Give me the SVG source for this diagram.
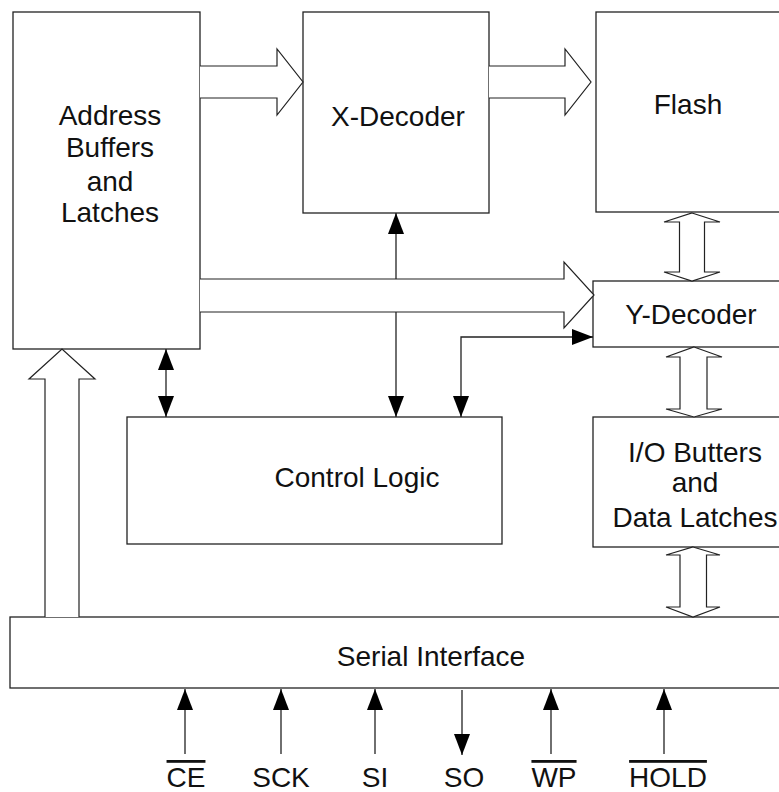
<svg xmlns="http://www.w3.org/2000/svg" width="779" height="792" viewBox="0 0 779 792">
<style>
  .box{fill:#fff;stroke:#222;stroke-width:1.3}
  .hollow{fill:#fff;stroke:#222;stroke-width:1.2;stroke-linejoin:miter}
  .ln{fill:none;stroke:#222;stroke-width:1.3}
  text{font-family:"Liberation Sans",Arial,sans-serif;font-size:28px;fill:#111;text-anchor:middle}
  .ov{text-decoration:overline}
</style>
<defs>
  <marker id="ah" markerUnits="userSpaceOnUse" markerWidth="22" markerHeight="16" refX="21" refY="8" orient="auto-start-reverse" viewBox="0 0 22 16">
    <path d="M0,0 L21,8 L0,16 Z" fill="#000"/>
  </marker>
</defs>
<rect width="779" height="792" fill="#fff"/>

<g id="address-buffers">
  <rect class="box" x="13" y="12" width="187" height="337"/>
  <text x="110" y="125">Address</text>
  <text x="110" y="157">Buffers</text>
  <text x="110" y="191">and</text>
  <text x="110" y="222">Latches</text>
</g>
<g id="x-decoder">
  <rect class="box" x="303" y="12" width="186" height="201"/>
  <text x="398" y="126">X-Decoder</text>
</g>
<g id="flash">
  <rect class="box" x="596" y="12" width="200" height="200"/>
  <text x="688" y="114">Flash</text>
</g>
<g id="y-decoder">
  <rect class="box" x="593" y="281" width="200" height="66"/>
  <text x="691" y="324">Y-Decoder</text>
</g>
<g id="control-logic">
  <rect class="box" x="127" y="417" width="375" height="127"/>
  <text x="357" y="487">Control Logic</text>
</g>
<g id="io-buffers">
  <rect class="box" x="593" y="417" width="200" height="130"/>
  <text x="695" y="462">I/O Butters</text>
  <text x="695" y="492">and</text>
  <text x="695" y="527">Data Latches</text>
</g>
<g id="serial-interface">
  <rect class="box" x="10" y="617" width="790" height="71"/>
  <text x="431" y="666">Serial Interface</text>
</g>

<g id="connectors">
  <!-- thin control lines -->
  <line class="ln" x1="396" y1="280" x2="396" y2="213" marker-end="url(#ah)"/>
  <line class="ln" x1="396" y1="311" x2="396" y2="417" marker-end="url(#ah)"/>
  <line class="ln" x1="166" y1="349" x2="166" y2="417" marker-start="url(#ah)" marker-end="url(#ah)"/>
  <path class="ln" d="M461,417 L461,337 L593,337" marker-start="url(#ah)" marker-end="url(#ah)"/>

  <!-- hollow bus arrows -->
  <path class="hollow" d="M200,66 L277,66 L277,49 L303,82 L277,115 L277,98 L200,98"/>
  <path class="hollow" d="M489,66 L565,66 L565,49 L591,82 L565,115 L565,98 L489,98"/>
  <path class="hollow" d="M200,279 L564,279 L564,262 L594,295 L564,328 L564,312 L200,312"/>
  <path class="hollow" d="M45,617 L45,379 L29,379 L62,349 L95,379 L79,379 L79,617"/>
  <path class="hollow" d="M692,213 L720,222 L704.5,222 L704.5,272 L720,272 L692,281 L664,272 L679.5,272 L679.5,222 L664,222 Z"/>
  <path class="hollow" d="M694,347 L722,357 L707,357 L707,409 L722,409 L694,417 L666,409 L680,409 L680,357 L666,357 Z"/>
  <path class="hollow" d="M693,547 L720,555 L706.5,555 L706.5,607 L720,607 L693,617 L666,607 L680,607 L680,555 L666,555 Z"/>

  <!-- signal pins -->
  <line class="ln" x1="185" y1="754" x2="185" y2="689" marker-end="url(#ah)"/>
  <line class="ln" x1="281" y1="754" x2="281" y2="689" marker-end="url(#ah)"/>
  <line class="ln" x1="375" y1="754" x2="375" y2="689" marker-end="url(#ah)"/>
  <line class="ln" x1="462" y1="690" x2="462" y2="755" marker-end="url(#ah)"/>
  <line class="ln" x1="551" y1="754" x2="551" y2="689" marker-end="url(#ah)"/>
  <line class="ln" x1="664" y1="754" x2="664" y2="689" marker-end="url(#ah)"/>
</g>

<g id="pin-labels">
  <text class="ov" x="186" y="787">CE</text>
  <text x="281" y="787">SCK</text>
  <text x="375" y="787">SI</text>
  <text x="464" y="787">SO</text>
  <text class="ov" x="554" y="787">WP</text>
  <text class="ov" x="668" y="787">HOLD</text>
</g>
</svg>
